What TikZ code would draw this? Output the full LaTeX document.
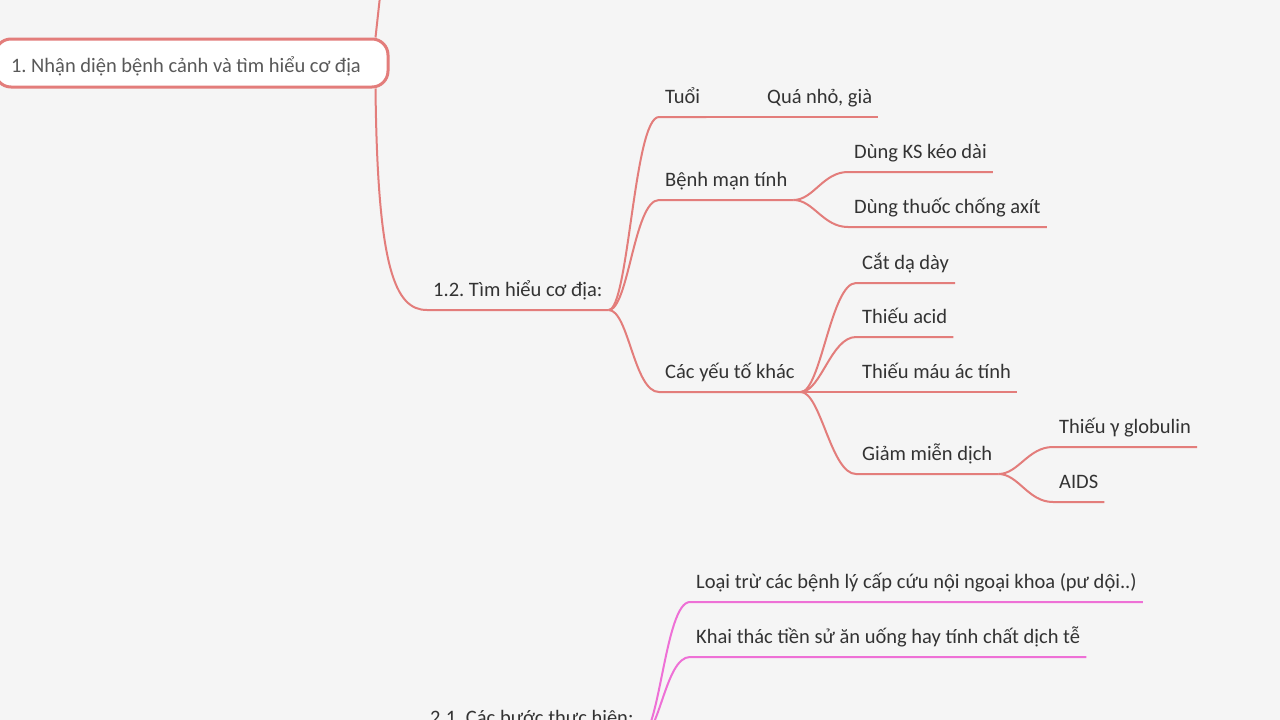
\documentclass[tikz,border=0pt]{standalone}
\usepackage{fontspec}
\setmainfont{Carlito}
\frenchspacing
\usepackage{tikz}
\usetikzlibrary{calc}
\definecolor{bgcol}{HTML}{F5F5F5}
\definecolor{redline}{HTML}{E37D7B}
\definecolor{pinkline}{HTML}{EE70D6}
\definecolor{txtcol}{HTML}{333333}
\def\branch[#1](#2)(#3){\draw[#1] (#2.south east) .. controls +(20,0) and +(-25,0) .. (#3.south west) -- (#3.south east);}

\begin{document}
\begin{tikzpicture}[x=1pt, y=-1pt,
	topic/.style={anchor=south west, inner xsep=6pt, inner ysep=0pt, text height=14pt, text depth=13pt, font=\fontsize{20.5}{24}\selectfont, text=txtcol},
	rline/.style={line width=2pt, color=redline},
	pline/.style={line width=2pt, color=pinkline}]
			%%%%% START %%%%%
			
			\fill[bgcol] (0, 0) rectangle (1280, 720);
			\useasboundingbox (0, 0) rectangle (1280, 720);
			
			\coordinate (up) at (384, -40);
			
			\node[draw=redline, line width=3pt, fill=white, rounded corners=16pt, minimum height=48pt, text width=361pt, text height=22pt, text depth=4pt, inner xsep=16pt, align=flush left, font=\fontsize{20.5}{24}\selectfont, text=black!65] (root) at (191.5, 63) {1. Nhận diện bệnh cảnh và tìm hiểu cơ địa};
			
			\node[topic] (tim) at (427, 310) {1.2. Tìm hiểu cơ địa:};
			
			\node[topic] (tuoi) at (659, 117) {Tuổi};
			\node[topic] (qua) at (761, 117) {Quá nhỏ, già};
			\node[topic] (bmt) at (659, 200) {Bệnh mạn tính};
			\node[topic] (cyt) at (659, 392) {Các yếu tố khác};
			
			\node[topic] (dks) at (848, 172) {Dùng KS kéo dài};
			\node[topic] (dtc) at (848, 227) {Dùng thuốc chống axít};
			
			\node[topic] (cdd) at (856, 283) {Cắt dạ dày};
			\node[topic] (tac) at (856, 337) {Thiếu acid};
			\node[topic] (tma) at (856, 392) {Thiếu máu ác tính};
			\node[topic] (gmd) at (856, 474) {Giảm miễn dịch};
			
			\node[topic] (tgg) at (1053, 447) {Thiếu γ globulin};
			\node[topic] (aids) at (1053, 502) {AIDS};
			
			\node[topic] (cbt) at (424, 738) {2.1. Các bước thực hiện:};
			\node[topic] (loai) at (690, 602) {Loại trừ các bệnh lý cấp cứu nội ngoại khoa (pư dội..)};
			\node[topic] (khai) at (690, 657) {Khai thác tiền sử ăn uống hay tính chất dịch tễ};
			
			% root to 1.2
			\draw[rline] ([xshift=-14pt]root.north east) -- (up);
			\draw[rline] ([xshift=-14pt]root.south east) .. controls +(2, 180) and +(-32, 0) .. (tim.south west) -- (tim.south east);
			
			\branch[rline](tim)(tuoi);
			\draw[rline] (tuoi.south east) -- (qua.south west) -- (qua.south east);
			\branch[rline](tim)(bmt);
			\branch[rline](tim)(cyt);
			
			\branch[rline](bmt)(dks);
			\branch[rline](bmt)(dtc);
			
			\branch[rline](cyt)(cdd);
			\branch[rline](cyt)(tac);
			\branch[rline](cyt)(tma);
			\branch[rline](cyt)(gmd);
			
			\branch[rline](gmd)(tgg);
			\branch[rline](gmd)(aids);
			
			% 2.1
			\draw[pline] (cbt.south west) -- (cbt.south east);
			\branch[pline](cbt)(loai);
			\branch[pline](cbt)(khai);
			
			%%%%% END %%%%%
\end{tikzpicture}
\end{document}
